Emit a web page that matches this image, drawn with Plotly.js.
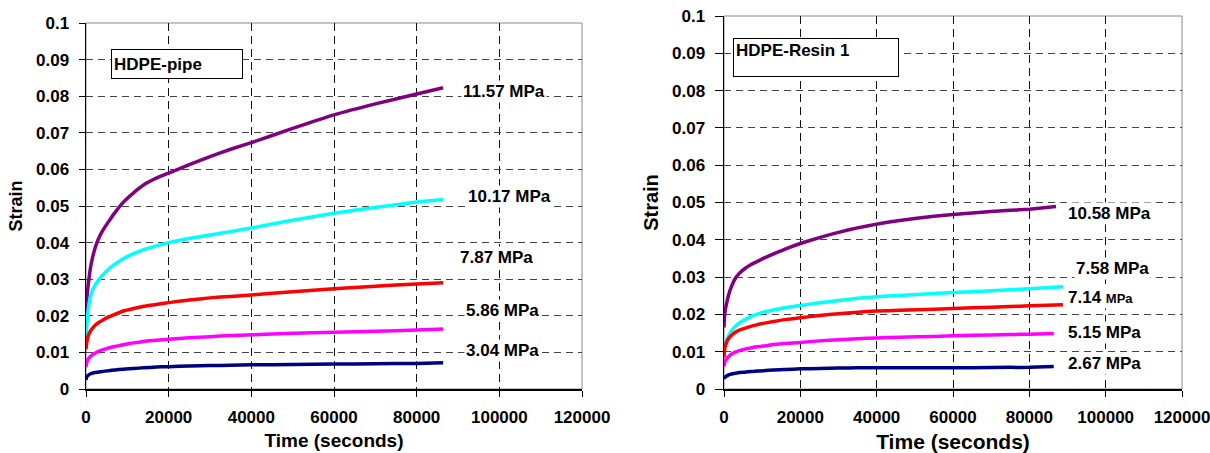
<!DOCTYPE html>
<html>
<head>
<meta charset="utf-8">
<script src="https://cdn.plot.ly/plotly-3.0.1.min.js"></script>
<style>html,body{margin:0;padding:0;background:#fff}#chart{width:1210px;height:453px}</style>
</head>
<body>
<div id="chart"></div>
<script>
// ---------- DATA ----------
// Left panel: HDPE-pipe (time in seconds, strain)
const pipeTime = [0, 100, 300, 600, 1000, 1500, 2200, 3000, 4000, 5500, 7000, 9000, 11500, 14000, 17000, 20000, 25000, 30000, 35000, 40000, 50000, 60000, 70000, 80000, 86400];
const pipe1157 = [0.0180, 0.0220, 0.0260, 0.0290, 0.0325, 0.0355, 0.0385, 0.0410, 0.0432, 0.0458, 0.0482, 0.0510, 0.0536, 0.0558, 0.0576, 0.0590, 0.0613, 0.0635, 0.0655, 0.0673, 0.0712, 0.0749, 0.0779, 0.0806, 0.0823];
const pipe1017 = [0.0135, 0.0160, 0.0188, 0.0222, 0.0249, 0.0268, 0.0284, 0.0297, 0.0311, 0.0328, 0.0341, 0.0356, 0.0370, 0.0381, 0.0391, 0.0400, 0.0411, 0.0421, 0.0430, 0.0440, 0.0461, 0.0480, 0.0496, 0.0511, 0.0518];
const pipe787  = [0.0108, 0.0120, 0.0134, 0.0147, 0.0157, 0.0165, 0.0174, 0.0181, 0.0188, 0.0197, 0.0204, 0.0213, 0.0220, 0.0226, 0.0231, 0.0236, 0.0243, 0.0249, 0.0253, 0.0257, 0.0266, 0.0274, 0.0281, 0.0287, 0.0290];
const pipe586  = [0.0060, 0.0068, 0.0076, 0.0083, 0.0088, 0.0093, 0.0098, 0.0103, 0.0107, 0.0112, 0.0116, 0.0121, 0.0126, 0.0130, 0.0133, 0.0136, 0.0140, 0.0143, 0.0146, 0.0148, 0.0152, 0.0155, 0.0158, 0.0161, 0.0164];
const pipe304  = [0.0025, 0.0031, 0.0035, 0.0038, 0.0041, 0.0043, 0.0045, 0.0046, 0.0048, 0.0050, 0.0052, 0.0054, 0.0056, 0.0058, 0.0060, 0.0061, 0.0063, 0.0064, 0.0065, 0.0066, 0.0067, 0.0068, 0.0069, 0.0070, 0.0072];
const pipeLabels = ['11.57 MPa', '10.17 MPa', '7.87 MPa', '5.86 MPa', '3.04 MPa'];

// Right panel: HDPE-Resin 1
const resinTime1058 = [0, 100, 300, 700, 1100, 1600, 2200, 3000, 4000, 5500, 7000, 8500, 10300, 13000, 16000, 20000, 25000, 30000, 35000, 40000, 46000, 55000, 65000, 75000, 80000, 87000];
const resinTime7xx  = [0, 100, 300, 700, 1100, 1600, 2200, 3000, 4000, 5500, 7000, 8500, 10300, 13000, 16000, 20000, 25000, 30000, 35000, 40000, 46000, 55000, 65000, 75000, 80000, 88800];
const resinTimeLow  = [0, 100, 300, 700, 1100, 1600, 2200, 3000, 4000, 5500, 7000, 8500, 10300, 13000, 16000, 20000, 25000, 30000, 35000, 40000, 46000, 55000, 65000, 75000, 80000, 86400];
const resin1058 = [0.0165, 0.0190, 0.0210, 0.0230, 0.0248, 0.0265, 0.0281, 0.0297, 0.0310, 0.0323, 0.0333, 0.0341, 0.0350, 0.0362, 0.0375, 0.0390, 0.0406, 0.0420, 0.0432, 0.0442, 0.0452, 0.0463, 0.0472, 0.0479, 0.0482, 0.0489];
const resin758  = [0.0095, 0.0108, 0.0119, 0.0131, 0.0141, 0.0150, 0.0159, 0.0168, 0.0177, 0.0186, 0.0194, 0.0200, 0.0206, 0.0212, 0.0218, 0.0224, 0.0231, 0.0237, 0.0243, 0.0247, 0.0251, 0.0256, 0.0261, 0.0266, 0.0269, 0.0274];
const resin714  = [0.0085, 0.0102, 0.0114, 0.0126, 0.0134, 0.0140, 0.0146, 0.0152, 0.0158, 0.0163, 0.0168, 0.0172, 0.0176, 0.0181, 0.0186, 0.0191, 0.0197, 0.0202, 0.0206, 0.0209, 0.0211, 0.0214, 0.0218, 0.0221, 0.0223, 0.0226];
const resin515  = [0.0060, 0.0067, 0.0074, 0.0081, 0.0086, 0.0091, 0.0095, 0.0099, 0.0103, 0.0107, 0.0110, 0.0113, 0.0115, 0.0119, 0.0122, 0.0125, 0.0129, 0.0132, 0.0135, 0.0137, 0.0139, 0.0141, 0.0144, 0.0146, 0.0147, 0.0149];
const resin267  = [0.0027, 0.0030, 0.0032, 0.0035, 0.0037, 0.0039, 0.0041, 0.0042, 0.0044, 0.0045, 0.0047, 0.0048, 0.0049, 0.0051, 0.0052, 0.0054, 0.0055, 0.0056, 0.0057, 0.0057, 0.0057, 0.0057, 0.0057, 0.0058, 0.0058, 0.0060];
const resinLabels = ['10.58 MPa', '7.58 MPa', '7.14 MPa', '5.15 MPa', '2.67 MPa'];

const panelTitles = ['HDPE-pipe', 'HDPE-Resin 1'];
const xTickVals = [0, 20000, 40000, 60000, 80000, 100000, 120000];
const yTickVals = [0, 0.01, 0.02, 0.03, 0.04, 0.05, 0.06, 0.07, 0.08, 0.09, 0.1];

// ---------- STYLE ----------
const COLORS = ['#800080', '#00FFFF', '#FF0000', '#FF00FF', '#000080'];
const FONT = 'Arial, "Liberation Sans", sans-serif';
const L = 86, R = 1182, T = 16, B = 389;
const px = x => (x - L) / (R - L);
const py = y => (B - y) / (B - T);

function line(x, y, color, xa, ya) {
  return {x: x, y: y, xaxis: xa, yaxis: ya, type: 'scatter', mode: 'lines',
          line: {color: color, width: 3.5, shape: 'spline', smoothing: 0.4},
          showlegend: false, hoverinfo: 'skip'};
}

const traces = [
  line(pipeTime, pipe1157, COLORS[0], 'x', 'y'),
  line(pipeTime, pipe1017, COLORS[1], 'x', 'y'),
  line(pipeTime, pipe787,  COLORS[2], 'x', 'y'),
  line(pipeTime, pipe586,  COLORS[3], 'x', 'y'),
  line(pipeTime, pipe304,  COLORS[4], 'x', 'y'),
  line(resinTime1058, resin1058, COLORS[0], 'x2', 'y2'),
  line(resinTime7xx,  resin758,  COLORS[1], 'x2', 'y2'),
  line(resinTime7xx,  resin714,  COLORS[2], 'x2', 'y2'),
  line(resinTimeLow,  resin515,  COLORS[3], 'x2', 'y2'),
  line(resinTimeLow,  resin267,  COLORS[4], 'x2', 'y2')
];

function xaxis(domain, anchor, titleSize) {
  return {domain: domain, anchor: anchor, range: [0, 120000], tickvals: xTickVals, tickformat: 'd',
    showline: true, linecolor: '#000', linewidth: 1.5, ticks: 'outside', ticklen: 6, tickcolor: '#000',
    showgrid: true, gridcolor: '#111', gridwidth: 1, griddash: '8px,5px', zeroline: false,
    ticklabeloverflow: 'allow',
    tickfont: {family: FONT, size: 17, color: '#000', weight: 'bold'}, ticklabelstandoff: 6,
    title: {text: 'Time (seconds)', font: {family: FONT, size: titleSize, color: '#000', weight: 'bold'}, standoff: 8}};
}
function yaxis(domain, anchor, titleSize, tlen) {
  return {domain: domain, anchor: anchor, range: [0, 0.1], tickvals: yTickVals,
    showline: true, linecolor: '#000', linewidth: 1.5, ticks: 'outside', ticklen: tlen, tickcolor: '#000',
    showgrid: true, gridcolor: '#444', gridwidth: 1, griddash: '7px,5px', zeroline: false,
    ticklabeloverflow: 'allow',
    tickfont: {family: FONT, size: 17, color: '#000', weight: 'bold'}, ticklabelstandoff: 6,
    title: {text: 'Strain', font: {family: FONT, size: titleSize, color: '#000', weight: 'bold'}, standoff: 8}};
}

function label(text, x, y) {
  return {xref: 'paper', yref: 'paper', x: px(x), y: py(y), xanchor: 'left', yanchor: 'middle',
    text: text, showarrow: false, bgcolor: '#fff', borderpad: 1,
    font: {family: FONT, size: 17, color: '#000', weight: 'bold'}};
}

const annotations = [
  label(pipeLabels[0], 461, 91),
  label(pipeLabels[1], 466, 196),
  label(pipeLabels[2], 458, 257),
  label(pipeLabels[3], 464, 310),
  label(pipeLabels[4], 464, 350),
  label(resinLabels[0], 1066, 213),
  label(resinLabels[1], 1074, 268),
  label(resinLabels[2].replace('MPa', "<span style='font-size:13px'>MPa</span>"), 1066, 297),
  label(resinLabels[3], 1066, 332),
  label(resinLabels[4], 1066, 363),
  {xref: 'paper', yref: 'paper', x: px(111), y: py(49), xanchor: 'left', yanchor: 'top',
   text: panelTitles[0], showarrow: false, align: 'left', valign: 'middle', width: 126, height: 24,
   bgcolor: '#fff', bordercolor: '#000', borderwidth: 1, borderpad: 2,
   font: {family: FONT, size: 17, color: '#000', weight: 'bold'}},
  {xref: 'paper', yref: 'paper', x: px(733), y: py(38), xanchor: 'left', yanchor: 'top',
   text: panelTitles[1], showarrow: false, align: 'left', valign: 'top', width: 160, height: 33,
   bgcolor: '#fff', bordercolor: '#000', borderwidth: 1, borderpad: 2,
   font: {family: FONT, size: 17, color: '#000', weight: 'bold'}}
];

const border = (xr, yr) => ({type: 'rect', xref: xr + ' domain', yref: yr + ' domain', x0: 0, x1: 1, y0: 0, y1: 1,
  line: {color: '#888', width: 1}, layer: 'below'});

const layout = {
  width: 1210, height: 453,
  margin: {l: L, r: 1210 - R, t: T, b: 453 - B},
  paper_bgcolor: '#fff', plot_bgcolor: '#fff',
  showlegend: false,
  xaxis: xaxis([0, px(582)], 'y', 19),
  yaxis: yaxis([0, py(23)], 'x', 18, 6),
  xaxis2: xaxis([px(724), 1], 'y2', 21),
  yaxis2: yaxis([0, 1], 'x2', 20, 8),
  annotations: annotations,
  shapes: [border('x', 'y'), border('x2', 'y2')]
};

Plotly.newPlot('chart', traces, layout, {staticPlot: true, displayModeBar: false});
</script>
</body>
</html>
